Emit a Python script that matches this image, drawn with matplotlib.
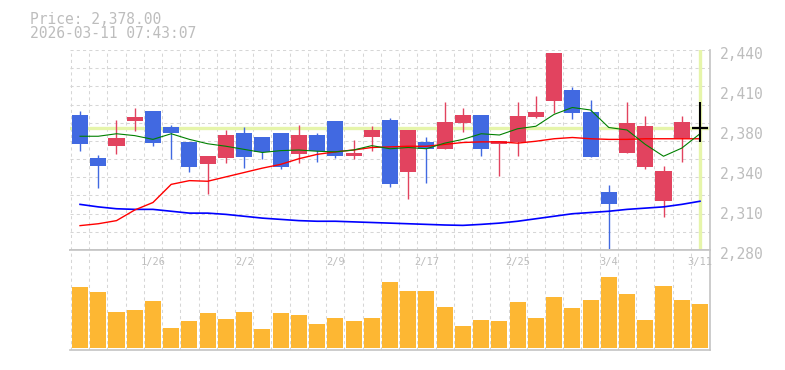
import numpy as np
import matplotlib
matplotlib.use("Agg")
import matplotlib.pyplot as plt
from matplotlib.transforms import ScaledTranslation

# daily data, 2026-01-20 .. 2026-03-11
dates = ["1/20", "1/21", "1/22", "1/23", "1/26", "1/27", "1/28", "1/29", "1/30",
         "2/2", "2/3", "2/4", "2/5", "2/6", "2/9", "2/10", "2/12", "2/13", "2/16",
         "2/17", "2/18", "2/19", "2/20", "2/24", "2/25", "2/26", "2/27", "3/2",
         "3/3", "3/4", "3/5", "3/6", "3/9", "3/10", "3/11"]
label_dates = ["1/26", "2/2", "2/9", "2/17", "2/25", "3/4", "3/11"]

opens = [2388, 2354, 2363.5, 2383, 2391, 2378.5, 2366.5, 2349, 2354, 2373.5,
         2370.5, 2373.5, 2357, 2372, 2383, 2355.5, 2370.5, 2384, 2342.5, 2366.5,
         2361, 2382, 2388, 2365, 2366.5, 2386.5, 2399, 2408, 2390.5, 2326.5,
         2358, 2346.5, 2319.5, 2370, 2378]
highs = [2391, 2356, 2384, 2393.5, 2391, 2380, 2366.5, 2355, 2376, 2378.5,
         2370.5, 2373.5, 2380, 2373.5, 2383, 2368, 2379, 2385.5, 2376, 2370.5,
         2398.5, 2393.5, 2388, 2367, 2398.5, 2403, 2437.5, 2410.5, 2400, 2332,
         2398.5, 2387, 2347, 2387, 2398.5]
lows = [2359, 2330, 2357, 2375.5, 2363.5, 2353, 2342.5, 2325, 2350, 2346,
        2353, 2345, 2350, 2350.5, 2354, 2353, 2359.5, 2330.5, 2321, 2334,
        2361, 2374.5, 2355.5, 2339.5, 2355.5, 2386, 2390, 2385, 2354.5, 2279,
        2358, 2345, 2306.5, 2350.5, 2366.5]
closes = [2365, 2347, 2369.5, 2386.5, 2366, 2374, 2346.5, 2355, 2372, 2354.5,
          2358.5, 2346.5, 2372, 2359, 2355.5, 2357.5, 2376, 2333, 2376, 2361,
          2382.5, 2388, 2361, 2367, 2387, 2390.5, 2437.5, 2390, 2354.5, 2317,
          2381.5, 2379, 2343, 2382.5, 2378]

ma_short = [2371, 2371, 2373, 2371.5, 2368.5, 2373, 2368.5, 2365, 2363, 2360.5,
            2358, 2359.5, 2360, 2359, 2358.5, 2360, 2363.5, 2361, 2362, 2361,
            2365.5, 2368.5, 2373, 2372, 2377, 2379, 2388.5, 2394, 2392, 2378,
            2376, 2364.5, 2355, 2361.5, 2373]
ma_mid = [2299.5, 2301, 2303.5, 2312, 2318, 2332.5, 2335.5, 2335, 2338.5, 2342,
          2345.5, 2348.5, 2353, 2356.5, 2358.5, 2360, 2362, 2362.5, 2363, 2363,
          2364.5, 2366, 2366.5, 2366.5, 2365.5, 2367, 2369, 2370, 2369, 2368.5,
          2368.5, 2369, 2369, 2369, 2369]
ma_long = [2316.5, 2314.5, 2313, 2312.5, 2312.5, 2311, 2309.5, 2309.5, 2308.5, 2307,
           2305.5, 2304.5, 2303.5, 2303, 2303, 2302.5, 2302, 2301.5, 2301, 2300.5,
           2300, 2299.7, 2300.5, 2301.5, 2303, 2305, 2307, 2309, 2310, 2311,
           2312.5, 2313.5, 2314.5, 2316.5, 2319]

# volume (thousand shares)
volume = [183, 168, 108, 114, 141, 60, 81, 105, 87, 108, 57, 105, 99, 72, 90,
          81, 90, 198, 171, 171, 123, 66, 84, 81, 138, 90, 153, 120, 144, 213,
          162, 84, 186, 144, 132]

current_price = 2378.0
timestamp = "2026-03-11 07:43:07"
price_ticks = [2440, 2408, 2376, 2344, 2312, 2280]
price_labels = ["2,440", "2,410", "2,380", "2,340", "2,310", "2,280"]

UP = "#e2435f"
DOWN = "#4169e1"
VOL = "#fdb733"
GRID = "#d6d6d6"
FRAME = "#c4c4c4"
TXT = "#bdbdbd"
HILITE = "#e6f5aa"
W, H = 785, 370

fig = plt.figure(figsize=(W / 100, H / 100), dpi=100)
ax = fig.add_axes([70 / W, 1 - 250 / H, 640 / W, 200 / H])
axv = fig.add_axes([70 / W, 1 - 350 / H, 640 / W, 100 / H])

n = len(dates)
x = np.arange(n)
xlim = (-0.55, n - 0.45)
grid_kw = dict(color=GRID, lw=0.75, ls=(0, (3, 3)), zorder=0.5)

# price panel
for gy in np.linspace(2280, 2440, 12):
    ax.axhline(gy, **grid_kw)
for gx in np.arange(n) - 0.5:
    ax.axvline(gx, **grid_kw)
    axv.axvline(gx, **grid_kw)

ax.axhline(current_price, color=HILITE, lw=2.4, zorder=1)
ax.axvline(x[-1], ymin=0.01, ymax=1, color=HILITE, lw=2.4, zorder=1)

bw = 0.88
for i in range(n):
    o, h, l, c = opens[i], highs[i], lows[i], closes[i]
    if c > o:
        col = UP
    elif c < o:
        col = DOWN
    else:
        col = "black"
    if col == "black":
        ax.vlines(i, l, h, color=col, lw=1.5, zorder=4)
        ax.hlines(c, i - bw / 2, i + bw / 2, color=col, lw=1.6, zorder=4)
        continue
    ax.vlines(i, l, h, color=col, lw=1.0, zorder=2)
    ax.bar(i, abs(c - o), bottom=min(o, c), width=bw, color=col, lw=0, zorder=2)

ax.plot(x, ma_long, color="#0000ff", lw=1.2, zorder=3)
ax.plot(x, ma_mid, color="#ff0000", lw=1.0, zorder=3)
ax.plot(x, ma_short, color="#008000", lw=0.8, zorder=3)

ax.set_xlim(*xlim)
ax.set_ylim(2280, 2440)
ax.set_xticks([])
ax.yaxis.tick_right()
ax.set_yticks(price_ticks)
ax.set_yticklabels(price_labels, family="DejaVu Sans Mono", fontsize=10.5, color=TXT)
ax.tick_params(axis="y", length=0, pad=7)
shift = ScaledTranslation(0, -3 / 100, fig.dpi_scale_trans)
for lab in ax.get_yticklabels():
    lab.set_transform(lab.get_transform() + shift)
for s in ["top", "left"]:
    ax.spines[s].set_visible(False)
for s in ["bottom", "right"]:
    ax.spines[s].set_color(FRAME)
    ax.spines[s].set_linewidth(1.2)

# volume panel
axv.bar(x, volume, width=bw, color=VOL, lw=0, zorder=2)
axv.set_xlim(*xlim)
axv.set_ylim(-6, 294)
axv.set_xticks([])
axv.set_yticks([])
axv.spines["left"].set_visible(False)
for s in ["top", "right", "bottom"]:
    axv.spines[s].set_color(FRAME)
    axv.spines[s].set_linewidth(1.2)
for d in label_dates:
    axv.text(dates.index(d), 0.88, d, transform=axv.get_xaxis_transform(),
             ha="center", va="center", family="DejaVu Sans Mono",
             fontsize=7.5, color=TXT, zorder=3)

fig.text(30 / W, 1 - 23.5 / H, f"Price: {current_price:,.2f}", family="DejaVu Sans Mono",
         fontsize=10.5, color=TXT, va="baseline")
fig.text(30 / W, 1 - 38.5 / H, timestamp, family="DejaVu Sans Mono",
         fontsize=10.5, color=TXT, va="baseline")

fig.savefig("out.png", dpi=100, facecolor="white")
